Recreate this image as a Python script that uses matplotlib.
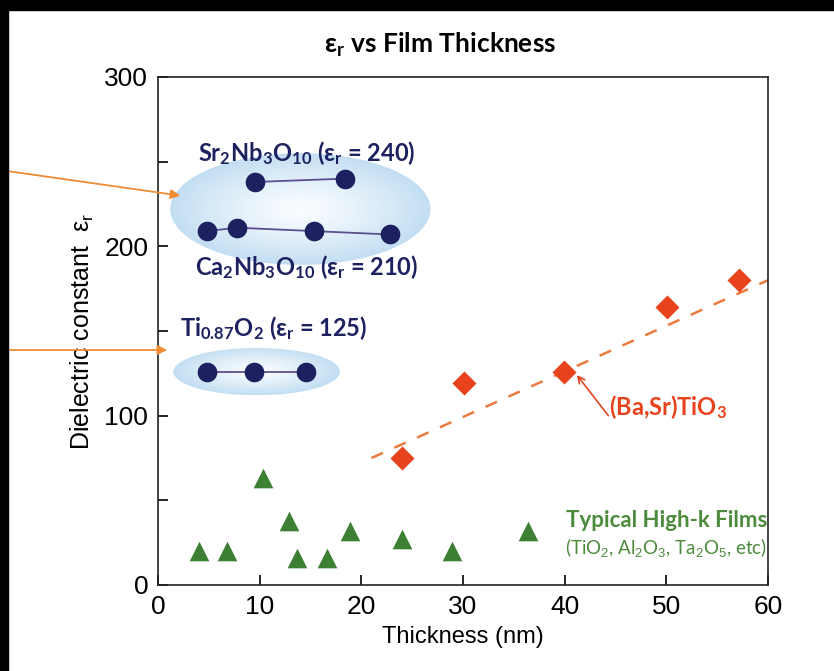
import numpy as np
import matplotlib
matplotlib.use("Agg")
import matplotlib.pyplot as plt
from matplotlib.patches import Ellipse, Rectangle, FancyArrowPatch
from matplotlib import font_manager

plt.rcParams['mathtext.fontset'] = 'custom'
plt.rcParams['mathtext.rm'] = 'Liberation Sans'
plt.rcParams['mathtext.it'] = 'Liberation Sans'
plt.rcParams['mathtext.bf'] = 'Lato:bold'

# ---- data -------------------------------------------------------------
sr_x = [9.5, 18.4]
sr_y = [238, 240]
ca_x = [4.8, 7.8, 15.3, 22.8]
ca_y = [209, 211, 209, 207]
ti_x = [4.8, 9.4, 14.6]
ti_y = [126, 126, 126]
bst_x = [24.0, 30.1, 39.9, 50.1, 57.1]
bst_y = [75, 119, 126, 164, 180]
bst_fit_x = [21, 60]
bst_fit_y = [75, 180]
hk_x = [4.0, 6.8, 10.3, 12.9, 13.7, 16.6, 18.9, 24.0, 28.9, 36.4]
hk_y = [20, 20, 63, 38, 16, 16, 32, 27, 20, 32]

xticks = [0, 10, 20, 30, 40, 50, 60]
yticks = [0, 100, 200, 300]

NAVY = '#1d2160'
LINK = '#5b4f8f'
BST = '#e8431d'
BST_LINE = '#ea7a3e'
GREEN = '#3d7f33'
GREEN_TXT = '#4c8a3c'
ARROW = '#f08c35'

installed = {f.name for f in font_manager.fontManager.ttflist}
NARROW = 'Liberation Sans Narrow' in installed
LABEL_FONT = ['Liberation Sans Narrow'] if NARROW else ['Liberation Sans']
XLABEL_SIZE = 21 if NARROW else 17
YLABEL_SIZE = 22 if NARROW else 18

fig = plt.figure(figsize=(8.34, 6.71), dpi=100)
ax = fig.add_axes([158 / 834, 1 - 585 / 671, 610 / 834, 508 / 671])
ax.set_xlim(0, 60)
ax.set_ylim(0, 300)


def gradient_ellipse(cx, cy, w, h):
    """Pale blue blob, whiter toward the middle."""
    n = 300
    xs = np.linspace(cx - w / 2, cx + w / 2, n)
    ys = np.linspace(cy - h / 2, cy + h / 2, n)
    X, Y = np.meshgrid(xs, ys)
    r = np.sqrt(((X - cx) / (w / 2)) ** 2 + ((Y - cy) / (h / 2)) ** 2)
    r = np.clip(r, 0, 1)
    edge = np.array([0.76, 0.87, 0.95])
    mid = np.array([0.98, 0.99, 1.0])
    t = r ** 1.3
    img = mid[None, None, :] * (1 - t[..., None]) + edge[None, None, :] * t[..., None]
    im = ax.imshow(img, extent=(cx - w / 2, cx + w / 2, cy - h / 2, cy + h / 2),
                   origin='lower', aspect='auto', zorder=1, interpolation='bilinear')
    clip = Ellipse((cx, cy), w, h, transform=ax.transData, facecolor='none',
                   edgecolor='none')
    ax.add_patch(clip)
    im.set_clip_path(clip)


gradient_ellipse(14.0, 222, 25.6, 66)
gradient_ellipse(9.7, 126, 16.4, 28)

# layered oxide nanosheets
ax.plot(sr_x, sr_y, color=LINK, lw=1.3, zorder=2)
ax.plot(ca_x, ca_y, color=LINK, lw=1.3, zorder=2)
ax.plot(ti_x, ti_y, color=LINK, lw=1.3, zorder=2)
for xs, ys in [(sr_x, sr_y), (ca_x, ca_y), (ti_x, ti_y)]:
    ax.scatter(xs, ys, s=200, color=NAVY, zorder=3, linewidths=0)

# (Ba,Sr)TiO3 films
ax.plot(bst_fit_x, bst_fit_y, color=BST_LINE, lw=1.8, dashes=(5, 5), zorder=2)
ax.scatter(bst_x, bst_y, marker='D', s=150, color=BST, zorder=3, linewidths=0)

# conventional high-k films
ax.scatter(hk_x, hk_y, marker='^', s=200, color=GREEN, zorder=3, linewidths=0)

# labels
lbl = dict(family='Lato', fontweight='bold', fontsize=17, color=NAVY,
           ha='center', va='center', zorder=4)
ax.text(14.6, 255, r'Sr$_\mathbf{2}$Nb$_\mathbf{3}$O$_\mathbf{10}$ (ε$_\mathbf{r}$ = 240)', **lbl)
ax.text(14.6, 188, r'Ca$_\mathbf{2}$Nb$_\mathbf{3}$O$_\mathbf{10}$ (ε$_\mathbf{r}$ = 210)', **lbl)
ax.text(11.4, 152, r'Ti$_\mathbf{0.87}$O$_\mathbf{2}$ (ε$_\mathbf{r}$ = 125)', **lbl)

ax.text(50.2, 105, r'(Ba,Sr)TiO$_\mathbf{3}$', family='Lato', fontweight='bold',
        fontsize=17, color=BST, ha='center', va='center', zorder=4)
ax.annotate('', xy=(41.2, 124), xytext=(44.3, 100),
            arrowprops=dict(arrowstyle='->', color=BST, lw=1.2,
                            shrinkA=0, shrinkB=0, mutation_scale=12))

ax.text(50.0, 38, 'Typical High-k Films', family='Lato', fontweight='bold',
        fontsize=16, color=GREEN_TXT, ha='center', va='center')
ax.text(50.0, 22, r'(TiO$_2$, Al$_2$O$_3$, Ta$_2$O$_5$, etc)', family='Lato',
        fontsize=13.5, color=GREEN_TXT, ha='center', va='center')

# axes styling
ax.set_xticks(xticks)
ax.set_yticks(yticks)
ax.set_yticks([50, 150, 250], minor=True)
ax.tick_params(direction='in', length=7, width=1.2, labelsize=19, pad=7)
ax.tick_params(which='minor', direction='in', length=7, width=1.2)
for lab in ax.get_xticklabels() + ax.get_yticklabels():
    lab.set_family('Liberation Sans')
for sp in ax.spines.values():
    sp.set_linewidth(1.2)
    sp.set_color('#222222')
ax.set_xlabel('Thickness (nm)', family=LABEL_FONT, fontsize=XLABEL_SIZE, labelpad=5)
ax.set_ylabel(r'Dielectric constant  ε$_\mathrm{r}$', family=LABEL_FONT,
              fontsize=YLABEL_SIZE, labelpad=6)

fig.text(440 / 834, 1 - 45 / 671, r'ε$_\mathbf{r}$ vs Film Thickness', family='Lato',
         fontweight='bold', fontsize=19, ha='center', va='center')

# pointers entering from the left margin
fig.add_artist(FancyArrowPatch(
    (0, 1 - 170 / 671), (183 / 834, 1 - 196 / 671), transform=fig.transFigure,
    arrowstyle='-|>', mutation_scale=14, color=ARROW, lw=1.3))
fig.add_artist(FancyArrowPatch(
    (0, 1 - 350 / 671), (170 / 834, 1 - 350 / 671), transform=fig.transFigure,
    arrowstyle='-|>', mutation_scale=14, color=ARROW, lw=1.3))

# dark frame strips along the top and left edges
fig.add_artist(Rectangle((0, 1 - 10 / 671), 1, 10 / 671, transform=fig.transFigure,
                         color='black', zorder=10))
fig.add_artist(Rectangle((0, 0), 8 / 834, 1, transform=fig.transFigure,
                         color='black', zorder=10))

fig.savefig('out.png', dpi=100)
